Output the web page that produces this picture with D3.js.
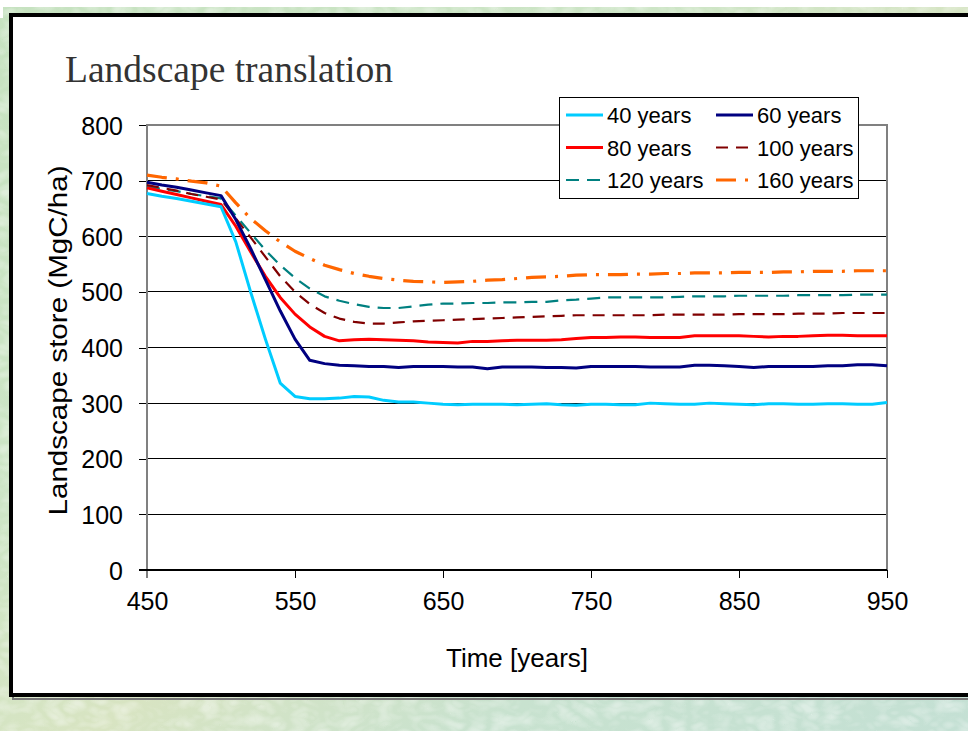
<!DOCTYPE html>
<html>
<head>
<meta charset="utf-8">
<script src="https://cdn.jsdelivr.net/npm/d3@7"></script>
<style>
  html, body { margin: 0; padding: 0; background: #fff; }
  svg { display: block; }
</style>
</head>
<body>
<svg id="chart" width="968" height="731"></svg>
<script>
// Simulation years (every 10 years)
const years = d3.range(450, 951, 10);

// Landscape carbon store (MgC/ha) for each rotation length
const rot40 = [677,672,668,663,658,653,590,500,415,336,312,308,308,309,312,311,305,302,302,300,298,297,298,298,298,297,298,299,297,296,298,298,297,297,300,299,298,298,300,299,298,297,299,299,298,298,299,299,298,298,301];
const rot60 = [697,692,688,683,678,673,630,578,522,466,415,377,371,368,367,366,366,364,366,366,366,365,365,362,365,365,365,364,364,363,366,366,366,366,365,365,365,368,368,367,366,364,366,366,366,366,367,367,369,369,367];
const rot80 = [687,681,675,669,663,657,618,572,528,490,460,437,420,412,414,415,414,413,412,410,409,408,411,411,412,413,413,413,414,416,418,418,419,419,418,418,418,421,421,421,421,420,419,420,420,421,422,422,421,421,421];
const rot100 = [692,687,682,676,671,666,632,598,563,528,500,478,462,452,446,443,443,445,447,448,449,450,451,452,453,454,455,456,457,458,458,458,458,458,458,459,459,459,459,459,460,460,460,460,461,461,461,462,462,462,462];
const rot120 = [689,685,681,676,672,668,637,606,575,548,525,506,492,484,478,473,471,471,474,477,479,479,480,480,481,481,482,482,485,486,488,490,490,490,490,490,491,492,492,492,493,493,493,493,494,494,494,494,495,495,495];
const rot160 = [710,706,703,699,696,690,660,632,610,590,573,560,548,540,533,528,524,521,519,518,517,518,519,521,522,524,526,527,528,530,531,531,531,532,532,533,533,534,534,534,535,535,535,536,536,537,537,537,538,538,538];

const seriesNames = ["40 years", "60 years", "80 years", "100 years", "120 years", "160 years"];
const seriesValues = [rot40, rot60, rot80, rot100, rot120, rot160];

const xTicks = [450, 550, 650, 750, 850, 950];
const yTicks = [0, 100, 200, 300, 400, 500, 600, 700, 800];

// Line styles per series
const styles = [
  { color: "#00CCFF", width: 3,   dash: null },
  { color: "#000080", width: 3,   dash: null },
  { color: "#FF0000", width: 3,   dash: null },
  { color: "#800000", width: 2.2, dash: "12,8" },
  { color: "#008080", width: 2.2, dash: "13,8" },
  { color: "#FF6600", width: 3.2, dash: "20,9,3,9" }
];

const svg = d3.select("#chart");
const W = 968, H = 731;

// ---- textured green slide background ----
const defs = svg.append("defs");
const bg = defs.append("linearGradient").attr("id", "bgGrad")
  .attr("x1", "0").attr("y1", "0").attr("x2", "1").attr("y2", "1");
[["0", "#c6e2c0"], ["0.35", "#cde5c6"], ["0.55", "#d8e4c2"], ["0.75", "#c8e2cf"], ["1", "#c4e0d4"]]
  .forEach(([o, c]) => bg.append("stop").attr("offset", o).attr("stop-color", c));

const tex = defs.append("filter").attr("id", "stoneTex")
  .attr("x", 0).attr("y", 0).attr("width", "100%").attr("height", "100%");
tex.append("feTurbulence").attr("type", "turbulence")
  .attr("baseFrequency", "0.045 0.07").attr("numOctaves", 2).attr("seed", 7).attr("result", "t");
tex.append("feColorMatrix").attr("in", "t").attr("type", "matrix")
  .attr("values", "0 0 0 0 1  0 0 0 0 1  0 0 0 0 1  1.8 0 0 0 -0.2");

svg.append("rect").attr("width", W).attr("height", H).attr("fill", "url(#bgGrad)");
svg.append("rect").attr("width", W).attr("height", H).attr("filter", "url(#stoneTex)").attr("opacity", 0.4);
svg.append("rect").attr("width", W).attr("height", 7).attr("fill", "#fff");
svg.append("rect").attr("width", 3).attr("height", 18).attr("fill", "#fff");

// ---- white panel with black frame and shadow ----
svg.append("rect").attr("x", 13).attr("y", 17).attr("width", W).attr("height", 682)
  .attr("fill", "none").attr("stroke", "#777").attr("stroke-width", 2);
svg.append("rect").attr("x", 11).attr("y", 15).attr("width", W + 10).attr("height", 680)
  .attr("fill", "#fff").attr("stroke", "#000").attr("stroke-width", 4);

// ---- title ----
svg.append("text").attr("x", 65).attr("y", 82)
  .attr("font-family", "'Liberation Serif', 'Times New Roman', serif")
  .attr("font-size", 37.5).attr("fill", "#333")
  .text("Landscape translation");

// ---- plot area ----
const x = d3.scaleLinear().domain([450, 950]).range([147, 887]);
const y = d3.scaleLinear().domain([0, 800]).range([570, 125]);

const sans = "'Liberation Sans', Arial, sans-serif";

// horizontal gridlines
svg.append("g").selectAll("line").data(yTicks.filter(d => d > 0 && d < 800)).join("line")
  .attr("x1", x(450)).attr("x2", x(950))
  .attr("y1", d => y(d)).attr("y2", d => y(d))
  .attr("stroke", "#000").attr("stroke-width", 1).attr("shape-rendering", "crispEdges");

// plot area border (top / right / left)
svg.append("path")
  .attr("d", `M${x(450)},${y(0)}V${y(800)}H${x(950)}V${y(0)}`)
  .attr("fill", "none").attr("stroke", "#808080").attr("stroke-width", 1.5)
  .attr("shape-rendering", "crispEdges");

// axes
const yAxis = d3.axisLeft(y).tickValues(yTicks).tickSize(8).tickPadding(16);
const xAxis = d3.axisBottom(x).tickValues(xTicks).tickSize(8).tickPadding(14);

const gy = svg.append("g").attr("transform", `translate(${x(450)},0)`).call(yAxis);
const gx = svg.append("g").attr("transform", `translate(0,${y(0)})`).call(xAxis);

[gx, gy].forEach(g => {
  g.select(".domain").remove();
  g.selectAll(".tick line").attr("stroke", "#000").attr("stroke-width", 1).attr("shape-rendering", "crispEdges");
  g.selectAll(".tick text").attr("font-family", sans).attr("font-size", 25).attr("fill", "#000");
});
gy.selectAll(".tick text").attr("dy", "0.36em");
gx.selectAll(".tick text").attr("dy", "0.72em");

// y axis line (gray) and x axis line (black)
svg.append("line").attr("x1", x(450)).attr("x2", x(450)).attr("y1", y(800)).attr("y2", y(0) + 8)
  .attr("stroke", "#808080").attr("stroke-width", 1.5).attr("shape-rendering", "crispEdges");
svg.append("line").attr("x1", x(450) - 8).attr("x2", x(950)).attr("y1", y(0)).attr("y2", y(0))
  .attr("stroke", "#000").attr("stroke-width", 1.2).attr("shape-rendering", "crispEdges");

// axis titles
svg.append("text").attr("x", 517).attr("y", 667).attr("text-anchor", "middle")
  .attr("font-family", sans).attr("font-size", 26).attr("fill", "#000")
  .text("Time [years]");
svg.append("text")
  .attr("transform", `translate(67,${(y(0) + y(800)) / 2 - 7}) rotate(-90)`)
  .attr("text-anchor", "middle")
  .attr("font-family", sans).attr("font-size", 26).attr("fill", "#000")
  .attr("textLength", 350).attr("lengthAdjust", "spacingAndGlyphs")
  .text("Landscape store (MgC/ha)");

// ---- series lines ----
const line = d3.line().x((d, i) => x(years[i])).y(d => y(d));
const order = [5, 4, 3, 2, 1, 0];
svg.append("g").selectAll("path").data(order).join("path")
  .attr("d", k => line(seriesValues[k]))
  .attr("fill", "none")
  .attr("stroke", k => styles[k].color)
  .attr("stroke-width", k => styles[k].width)
  .attr("stroke-dasharray", k => styles[k].dash)
  .attr("stroke-linejoin", "round");

// ---- legend ----
const lg = svg.append("g");
lg.append("rect").attr("x", 559.5).attr("y", 97.5).attr("width", 299).attr("height", 101)
  .attr("fill", "#fff").attr("stroke", "#000").attr("stroke-width", 1);
const rowY = [115, 147.5, 180];
const colX = [566, 716];
seriesNames.forEach((name, i) => {
  const cx = colX[i % 2], cy = rowY[Math.floor(i / 2)];
  lg.append("line").attr("x1", cx).attr("x2", cx + 37).attr("y1", cy).attr("y2", cy)
    .attr("stroke", styles[i].color).attr("stroke-width", styles[i].width)
    .attr("stroke-dasharray", styles[i].dash);
  lg.append("text").attr("x", cx + 41).attr("y", cy + 8)
    .attr("font-family", sans).attr("font-size", 22).attr("fill", "#000")
    .text(name);
});
</script>
</body>
</html>
